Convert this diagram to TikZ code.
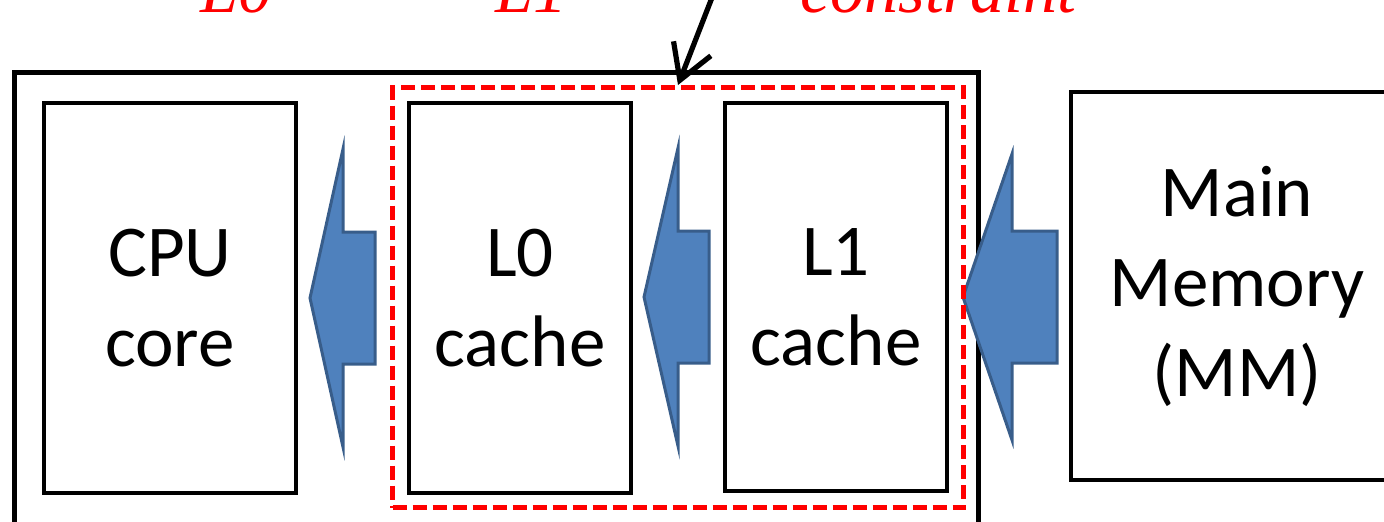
\documentclass[tikz,border=0pt]{standalone}
\usepackage{fontspec}
\setmainfont{Carlito}
\newfontfamily\notefont{Liberation Serif}
\usetikzlibrary{arrows.meta,positioning}

\definecolor{flowblue}{HTML}{4F81BD}
\definecolor{flowedge}{HTML}{385D8A}

\tikzstyle{unit}=[draw, line width=2pt, align=center, font=\fontsize{36.5}{45}\selectfont]
\tikzstyle{note}=[anchor=base west, inner sep=0pt, text=red, font=\notefont\itshape\fontsize{34}{40}\selectfont]

\begin{document}
\begin{tikzpicture}[x=0.5pt, y=-0.5pt]
\useasboundingbox (0,0) rectangle (1384,521);
\clip (0,0) rectangle (1384,521);

% chip outline
\node[draw, line width=2.5pt, minimum width=482pt, minimum height=244pt] (chip) at (496,316) {};

% transfer arrows, pointing towards the core
\foreach \tip/\back/\tail/\cy/\hh in {310/343/375/298/149, 644/678/709/297/149, 963/1012/1057/297/143}
  \filldraw[fill=flowblue, draw=flowedge, line width=1.5pt]
    (\tip,\cy) -- (\back,\cy-\hh) -- (\back,\cy-66) -- (\tail,\cy-66)
    -- (\tail,\cy+66) -- (\back,\cy+66) -- (\back,\cy+\hh) -- cycle;

% L0/L1 group
\node[draw=red, dash pattern=on 7pt off 3pt, line width=2.5pt,
      minimum width=285.5pt, minimum height=210pt] (fence) at (678,297.5) {};

\node[unit, minimum width=126pt, minimum height=195pt] (cpu) at (170,298) {CPU\\core};
\node[unit, minimum width=111pt, minimum height=195pt] (lzero) at (520,298) {L0\\cache};
\node[unit, minimum width=111pt, minimum height=194pt] (lone) at (836,297) {L1\\cache};
\node[unit, minimum width=166pt, minimum height=194pt] (mm) at (1237,286) {Main\\Memory\\(MM)};

% caption above
\node[note] (nzero) at (200,12) {L0};
\node[note] (ndash) at (280,13) {-};
\node[note] (none) at (495,12) {L1};
\node[note] (ncons) at (800,12) {constraint};

\coordinate (ptr) at (713,-5);
\draw[line width=2.6pt, -{Straight Barb[length=17pt,width=20pt]}] (ptr) -- (fence.north);
\end{tikzpicture}
\end{document}
